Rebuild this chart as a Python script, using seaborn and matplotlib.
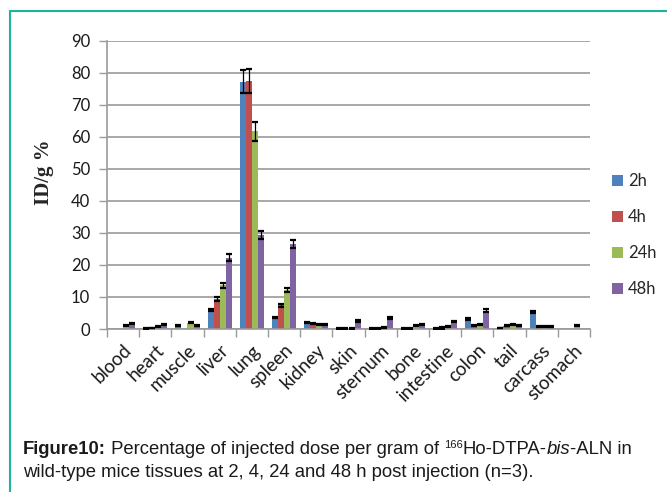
import numpy as np
import pandas as pd
import matplotlib
matplotlib.use("Agg")
import matplotlib.pyplot as plt
from matplotlib.lines import Line2D
import seaborn as sns

# Tissue distribution of 166Ho-DTPA-bis-ALN (%ID/g)
tissues = ["blood", "heart", "muscle", "liver", "lung", "spleen", "kidney", "skin",
           "sternum", "bone", "intestine", "colon", "tail", "carcass", "stomach"]
times = ["2h", "4h", "24h", "48h"]

vals_2h = [0.0, 0.2, 1.0, 6.0, 77.3, 3.6, 2.1, 0.1, 0.2, 0.2, 0.2, 3.2, 0.3, 5.2, 0.0]
vals_4h = [0.0, 0.3, 0.0, 9.4, 77.6, 7.4, 1.8, 0.1, 0.2, 0.2, 0.3, 1.2, 1.0, 0.8, 0.0]
vals_24h = [1.1, 0.7, 2.0, 13.6, 61.8, 12.2, 1.4, 0.1, 0.5, 1.0, 0.7, 1.5, 1.5, 0.8, 1.0]
vals_48h = [1.7, 1.3, 1.0, 22.3, 29.4, 26.5, 1.4, 2.5, 3.3, 1.5, 2.3, 5.7, 1.1, 0.8, 0.0]

err_2h = [0.0, 0.1, 0.2, 0.4, 3.7, 0.3, 0.2, 0.1, 0.1, 0.1, 0.1, 0.3, 0.1, 0.3, 0.0]
err_4h = [0.0, 0.1, 0.0, 0.5, 3.7, 0.4, 0.1, 0.1, 0.1, 0.1, 0.2, 0.2, 0.2, 0.1, 0.0]
err_24h = [0.2, 0.1, 0.2, 0.8, 3.0, 0.5, 0.1, 0.1, 0.1, 0.1, 0.1, 0.2, 0.2, 0.1, 0.2]
err_48h = [0.2, 0.2, 0.2, 1.0, 1.3, 1.3, 0.1, 0.3, 0.3, 0.1, 0.2, 0.4, 0.2, 0.1, 0.0]

y_ticks = [0, 10, 20, 30, 40, 50, 60, 70, 80, 90]

colors = ["#4F81BD", "#C0504D", "#9BBB59", "#8064A2"]

series = [vals_2h, vals_4h, vals_24h, vals_48h]
errors = [err_2h, err_4h, err_24h, err_48h]
df = pd.DataFrame({
    "tissue": np.tile(tissues, len(times)),
    "time": np.repeat(times, len(tissues)),
    "value": np.concatenate(series),
})

sns.set_style("white")
plt.rcParams["font.family"] = ["Lato", "DejaVu Sans"]

fig = plt.figure(figsize=(6.67, 4.92), dpi=100)
ax = fig.add_axes([0.1604, 0.3313, 0.7242, 0.5854])

sns.barplot(data=df, x="tissue", y="value", hue="time", order=tissues,
            hue_order=times, palette=colors, width=0.75, errorbar=None,
            saturation=1, ax=ax, legend=True, linewidth=0)

# error bars on top of every bar
for cont, err in zip(ax.containers, errors):
    for patch, e in zip(cont.patches, err):
        if e <= 0:
            continue
        xc = patch.get_x() + patch.get_width() / 2
        ax.errorbar(xc, patch.get_height(), yerr=e, fmt="none", ecolor="black",
                    elinewidth=0.9, capsize=2.5, capthick=1.6, zorder=5)

ax.set_ylim(0, 90)
ax.set_xlim(-0.5, len(tissues) - 0.5)
ax.set_yticks(y_ticks)
ax.set_yticklabels([str(t) for t in y_ticks], fontsize=12, color="#1a1a1a")
ax.yaxis.grid(True, color="#9a9a9a", linewidth=1.2)
ax.set_axisbelow(True)

ax.set_xticks(range(len(tissues)))
ax.set_xticklabels(tissues, rotation=45, ha="right", rotation_mode="anchor",
                   fontsize=13.5, color="#1a1a1a")
ax.set_xticks(np.arange(-0.5, len(tissues), 1), minor=True)
ax.tick_params(axis="x", which="major", length=0, pad=9)
ax.tick_params(axis="x", which="minor", length=6, width=1, color="#9a9a9a",
               direction="out", bottom=True)
ax.tick_params(axis="y", length=6, width=1, color="#9a9a9a", direction="out",
               left=True, pad=6)

for side in ["top", "right"]:
    ax.spines[side].set_visible(False)
ax.spines["left"].set_color("#9a9a9a")
ax.spines["left"].set_linewidth(1.2)
ax.spines["bottom"].set_color("#9a9a9a")
ax.spines["bottom"].set_linewidth(1.2)

ax.set_xlabel("")
ax.set_ylabel("")
fig.text(0.066, 0.65, "ID/g %", rotation=90, ha="center", va="center",
         fontsize=15, fontweight="bold", family="Liberation Serif")

handles, labels = ax.get_legend_handles_labels()
ax.legend(handles, labels, loc="upper left", bbox_to_anchor=(0.905, 0.665),
          bbox_transform=fig.transFigure, frameon=False, fontsize=12,
          handlelength=0.65, handleheight=0.65, handletextpad=0.3,
          labelspacing=1.2, borderpad=0)

# teal frame lines
frame_col = "#1fb39a"
fig.add_artist(Line2D([10 / 667, 10 / 667], [0, 1 - 11 / 492],
                      transform=fig.transFigure, color=frame_col, linewidth=1.5))
fig.add_artist(Line2D([10 / 667, 1], [1 - 11 / 492, 1 - 11 / 492],
                      transform=fig.transFigure, color=frame_col, linewidth=1.5))

# caption with mixed styles
fig.canvas.draw()
renderer = fig.canvas.get_renderer()


def write_runs(runs, x_px, y_px):
    x = x_px
    for txt, kw in runs:
        size = kw.pop("size", 13.3)
        dy = kw.pop("dy", 0)
        t = fig.text(x / 667, 1 - (y_px - dy) / 492, txt, fontsize=size,
                     family="Liberation Sans", va="baseline", color="#1a1a1a", **kw)
        bb = t.get_window_extent(renderer=renderer)
        x += bb.width


write_runs([("Figure10:", {"fontweight": "bold"}),
            (" Percentage of injected dose per gram of ", {}),
            ("166", {"size": 8, "dy": 6}),
            ("Ho-DTPA-", {}),
            ("bis", {"style": "italic"}),
            ("-ALN in", {})], 23, 454)
write_runs([("wild-type mice tissues at 2, 4, 24 and 48 h post injection (n=3).", {})],
           23, 477)

fig.savefig("out.png", dpi=100)
